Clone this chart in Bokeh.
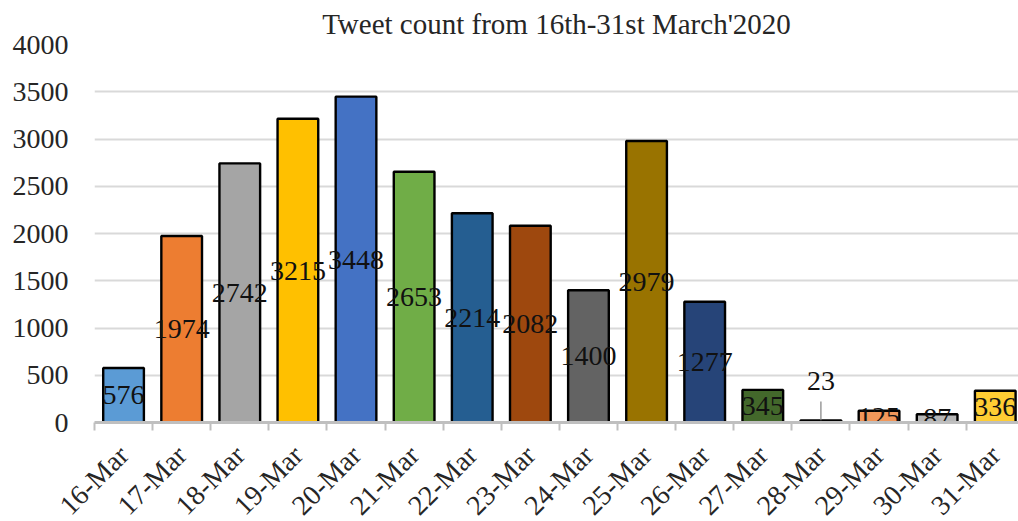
import math
from bokeh.plotting import figure
from bokeh.models import ColumnDataSource, FixedTicker, Range1d
from bokeh.core.properties import value
from bokeh.embed import file_html
from bokeh.resources import INLINE

dates = ["16-Mar", "17-Mar", "18-Mar", "19-Mar", "20-Mar", "21-Mar", "22-Mar", "23-Mar",
         "24-Mar", "25-Mar", "26-Mar", "27-Mar", "28-Mar", "29-Mar", "30-Mar", "31-Mar"]
counts = [576, 1974, 2742, 3215, 3448, 2653, 2214, 2082, 1400, 2979, 1277, 345, 23, 125, 87, 336]
colors = ["#5B9BD5", "#ED7D31", "#A5A5A5", "#FFC000", "#4472C4", "#70AD47", "#255E91", "#9E480E",
          "#636363", "#997300", "#264478", "#43682B", "#7CAFDD", "#F1975A", "#B7B7B7", "#FFCD33"]
y_ticks = [0, 500, 1000, 1500, 2000, 2500, 3000, 3500, 4000]
outside_labels = ["28-Mar"]
title_text = "Tweet count from 16th-31st March'2020"

FONT = "Liberation Serif"
LABEL_LIFT = 420      # data-units lift for outside labels
LEADER_TOP = 200      # data-units top of leader line

xs = list(range(len(dates)))
label_y = []
for d, c in zip(dates, counts):
    label_y.append(c + LABEL_LIFT if d in outside_labels else c / 2)

src = ColumnDataSource(dict(x=xs, top=counts, color=colors, ly=label_y,
                            txt=[str(c) for c in counts]))

p = figure(frame_width=924, frame_height=378, min_border_left=94, min_border_right=0,
           min_border_top=44, min_border_bottom=99,
           x_range=Range1d(-0.5, 15.4), y_range=Range1d(0, 4000),
           output_backend="svg", toolbar_location=None,
           background_fill_color="white", border_fill_color="white")
p.outline_line_color = None

p.title.text = title_text
p.title.align = "center"
p.title.text_font = FONT
p.title.text_font_size = "29px"
p.title.text_font_style = "normal"
p.title.text_color = "#262626"
p.title.offset = -2

p.vbar(x="x", top="top", width=0.7, bottom=0, fill_color="color", line_color="#000000",
       line_width=2.4, source=src)

# leader line for outside labels
lx = [x for x, d in zip(xs, dates) if d in outside_labels]
ly0 = [c for c, d in zip(counts, dates) if d in outside_labels]
ly1 = [c + LEADER_TOP for c, d in zip(counts, dates) if d in outside_labels]
p.segment(x0=lx, y0=ly0, x1=lx, y1=ly1, line_color="#808080", line_width=1.2)

p.text(x="x", y="ly", text="txt", source=src, text_font=value(FONT), text_font_size="28px",
       text_align="center", text_baseline="middle", text_color="#111111")

# axes
p.xaxis.ticker = FixedTicker(ticks=xs, minor_ticks=[x - 0.5 for x in xs] + [len(xs) - 0.5])
p.xaxis.major_label_overrides = {x: d for x, d in zip(xs, dates)}
p.xaxis.major_label_orientation = math.pi / 4
p.xaxis.major_tick_line_color = None
p.xaxis.minor_tick_in = 0
p.xaxis.minor_tick_out = 8
p.xaxis.minor_tick_line_color = "#BFBFBF"
p.xaxis.minor_tick_line_width = 2
p.xaxis.axis_line_color = "#BFBFBF"
p.xaxis.axis_line_width = 3
p.xaxis.major_label_text_font = FONT
p.xaxis.major_label_text_font_size = "28px"
p.xaxis.major_label_text_color = "#262626"
p.xaxis.major_label_standoff = 20

p.yaxis.ticker = FixedTicker(ticks=y_ticks)
p.yaxis.axis_line_color = None
p.yaxis.major_tick_line_color = None
p.yaxis.minor_tick_line_color = None
p.yaxis.major_label_text_font = FONT
p.yaxis.major_label_text_font_size = "28px"
p.yaxis.major_label_text_color = "#262626"
p.yaxis.major_label_standoff = 20
p.yaxis.axis_label = "\u00a0"
p.yaxis.axis_label_text_font_size = "6px"
p.yaxis.axis_label_standoff = 0

p.xgrid.grid_line_color = None
p.ygrid.grid_line_color = "#D9D9D9"
p.ygrid.grid_line_width = 2

open("out.html", "w").write(file_html(p, INLINE))
